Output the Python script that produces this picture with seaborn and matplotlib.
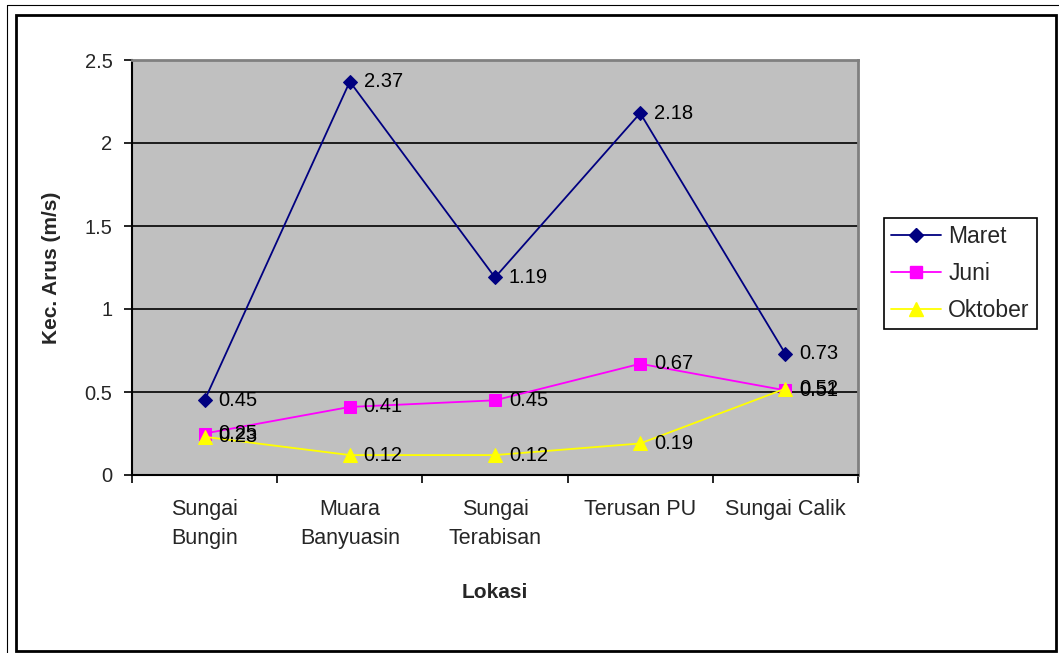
import matplotlib
matplotlib.use("Agg")
import matplotlib.pyplot as plt
from matplotlib.lines import Line2D
from matplotlib.patches import Rectangle
import seaborn as sns
import pandas as pd

# Data: current velocity per location for three sampling months
locations = ["Sungai\nBungin", "Muara\nBanyuasin", "Sungai\nTerabisan", "Terusan PU", "Sungai Calik"]
maret = [0.45, 2.37, 1.19, 2.18, 0.73]
juni = [0.25, 0.41, 0.45, 0.67, 0.51]
oktober = [0.23, 0.12, 0.12, 0.19, 0.52]
series_names = ["Maret", "Juni", "Oktober"]
y_ticks = [0, 0.5, 1, 1.5, 2, 2.5]
y_tick_labels = ["0", "0.5", "1", "1.5", "2", "2.5"]

sns.set_theme(style="white")
plt.rcParams["font.family"] = ["Liberation Sans", "DejaVu Sans"]

df = pd.DataFrame({
    "pos": list(range(len(locations))) * 3,
    "Lokasi": locations * 3,
    "value": maret + juni + oktober,
    "series": [s for s in series_names for _ in locations],
})

palette = {"Maret": "#000080", "Juni": "#FF00FF", "Oktober": "#FFFF00"}
markers = {"Maret": "D", "Juni": "s", "Oktober": "^"}
msizes = {"Maret": 7, "Juni": 8, "Oktober": 10}

fig = plt.figure(figsize=(10.59, 6.53), dpi=100)
ax = fig.add_axes([132 / 1059, 1 - 475 / 653, (858 - 132) / 1059, (475 - 60) / 653])
ax.set_facecolor("#C0C0C0")

for name in series_names:
    sub = df[df["series"] == name]
    sns.lineplot(data=sub, x="pos", y="value", ax=ax, color=palette[name],
                 marker=markers[name], markersize=msizes[name],
                 markeredgecolor=palette[name], linewidth=1.3, sort=False,
                 label=name, legend=False)

# Value labels to the right of each marker
for name in series_names:
    sub = df[df["series"] == name]
    for x, v in zip(sub["pos"], sub["value"]):
        ax.annotate(f"{v:.2f}", (x, v), xytext=(10, 0), textcoords="offset points",
                    ha="left", va="center", fontsize=14.5, color="black")

ax.set_xlim(-0.5, len(locations) - 0.5)
ax.set_ylim(0, 2.5)
ax.set_yticks(y_ticks)
ax.set_yticklabels(y_tick_labels, fontsize=14.5)
for yv in y_ticks[1:-1]:
    ax.axhline(yv, color="black", linewidth=1.2, zorder=0.5)

# Category boundaries as tick marks, labels centred between them
ax.set_xticks([i - 0.5 for i in range(len(locations) + 1)])
ax.set_xticklabels([""] * (len(locations) + 1))
ax.set_xticks(range(len(locations)), minor=True)
ax.set_xticklabels(locations, minor=True, fontsize=15.5, linespacing=1.55)
ax.tick_params(axis="x", which="minor", length=0, pad=17)
ax.tick_params(axis="both", which="major", direction="out", length=6, width=1.2,
               color="black", left=True, bottom=True)
ax.tick_params(axis="y", pad=8)

for side in ["left", "bottom"]:
    ax.spines[side].set_color("black")
    ax.spines[side].set_linewidth(1.5)
for side in ["top", "right"]:
    ax.spines[side].set_color("#808080")
    ax.spines[side].set_linewidth(2)

ax.set_xlabel("Lokasi", fontsize=15, fontweight="bold", labelpad=24)
ax.set_ylabel("Kec. Arus (m/s)", fontsize=15, fontweight="bold", labelpad=17)

handles = [Line2D([0], [0], color=palette[n], marker=markers[n], markersize=msizes[n],
                  markeredgecolor=palette[n], linewidth=1.3) for n in series_names]
leg = ax.legend(handles, series_names, loc="upper left",
                bbox_to_anchor=(884 / 1059, 1 - 218 / 653), bbox_transform=fig.transFigure,
                fontsize=16.5, frameon=True, fancybox=False, edgecolor="black",
                framealpha=1, borderpad=0.3, labelspacing=0.62, handlelength=2.2,
                handletextpad=0.3, borderaxespad=0)
leg.get_frame().set_linewidth(1.2)

# Outer chart frame
fig.add_artist(Rectangle((16 / 1059, 1 - 651 / 653), (1056 - 16) / 1059, (651 - 15) / 653,
                         transform=fig.transFigure, fill=False, edgecolor="black", linewidth=2))
fig.add_artist(Line2D([7 / 1059, 7 / 1059], [0, 1 - 5 / 653], transform=fig.transFigure,
                      color="black", linewidth=0.8))
fig.add_artist(Line2D([7 / 1059, 1], [1 - 5 / 653, 1 - 5 / 653], transform=fig.transFigure,
                      color="black", linewidth=0.8))

fig.savefig("out.png", dpi=100)
